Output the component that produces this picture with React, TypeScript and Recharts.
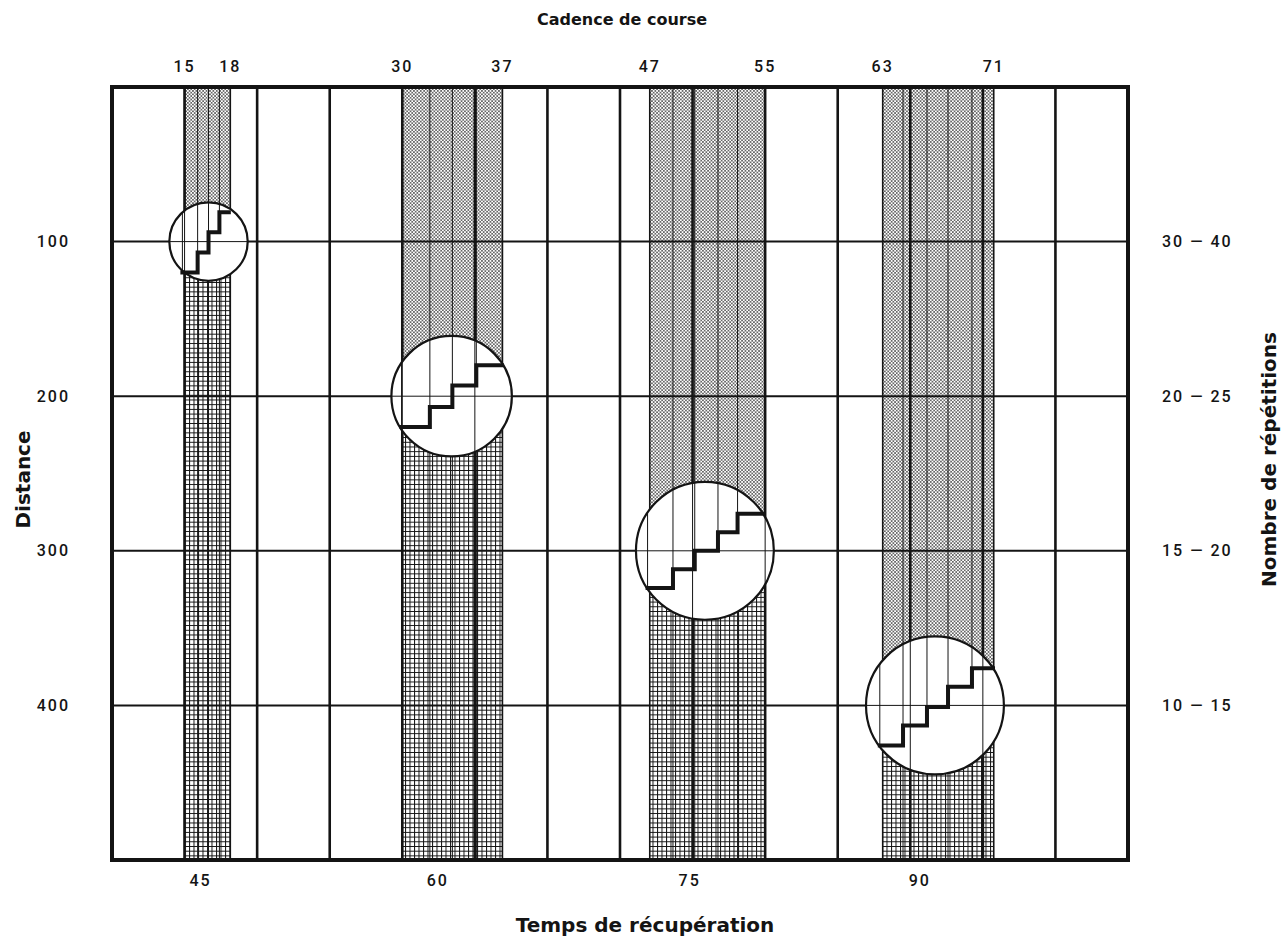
import React from 'react'
import {
  ComposedChart,
  XAxis,
  YAxis,
  Line,
  ReferenceArea,
  ReferenceLine,
  ReferenceDot,
  Label,
} from 'recharts'

// valeurs (x : colonnes de la grille, y : distance en m)
const X_MAX = 14
const Y_MAX = 500

const gridCols = [1, 2, 3, 4, 5, 6, 7, 8, 9, 10, 11, 12, 13]
const distances = [100, 200, 300, 400]
const repetitions = ['30 — 40', '20 — 25', '15 — 20', '10 — 15']

const cadencePos = [1, 1.63, 4, 5.38, 7.41, 9, 10.62, 12.15]
const cadenceLabels = ['15', '18', '30', '37', '47', '55', '63', '71']

const recupPos = [1.22, 4.49, 7.96, 11.13]
const recupLabels = ['45', '60', '75', '90']

const bandStart = [1, 4, 7.41, 10.62]
const bandEnd = [1.63, 5.38, 9, 12.15]

const circleX = [1.33, 4.68, 8.17, 11.34]
const circleY = [100, 200, 300, 400]
const circleR = [0.54, 0.83, 0.95, 0.95]

const stairX = [
  [0.97, 1.18, 1.33, 1.48, 1.61],
  [3.99, 4.38, 4.69, 5.02, 5.37],
  [7.38, 7.73, 8.03, 8.35, 8.62, 8.97],
  [10.58, 10.9, 11.23, 11.52, 11.85, 12.14],
]
const stairY = [
  [120, 107, 94, 81],
  [220, 207, 193, 180],
  [324, 312, 300, 288, 276],
  [426, 413, 401, 388, 376],
]

// mise en page
const W = 1282
const H = 938
const margin = { top: 47, right: 54, bottom: 38, left: 52 }
const LEFT_W = 60
const RIGHT_W = 100
const AXIS_H = 40
const PLOT_W = W - margin.left - margin.right - LEFT_W - RIGHT_W
const PLOT_H = H - margin.top - margin.bottom - 2 * AXIS_H
const KX = PLOT_W / X_MAX
const KY = PLOT_H / Y_MAX

const INK = '#141414'
const tickFont = { fontFamily: 'Roboto, sans-serif', fontSize: 16, fontWeight: 500, fill: INK, letterSpacing: 2 }
const titleFont = { fontFamily: '"DejaVu Sans", sans-serif', fontWeight: 700, fill: INK }

// demi-corde du cercle i à l'abscisse x, en unités y
function chord(i: number, x: number) {
  const dx = (x - circleX[i]) * KX
  const r = circleR[i] * KX
  if (Math.abs(dx) >= r) return null
  const h = Math.sqrt(r * r - dx * dx) / KY
  return [circleY[i] - h, circleY[i] + h]
}

const stairs = stairX.map((xs, i) =>
  xs.map((x, j) => ({ x, y: stairY[i][Math.min(j, stairY[i].length - 1)] }))
)

// lignes de la cadence (axe du haut)
const cadenceRows = cadencePos.map((x, i) => ({ x, label: cadenceLabels[i] }))

export default function App() {
  const bands = bandStart.flatMap((x1, i) => [
    <ReferenceArea key={`d${i}`} x1={x1} x2={bandEnd[i]} y1={0} y2={circleY[i]}
      fill="url(#dots)" fillOpacity={1} stroke="none" zIndex={1} />,
    <ReferenceArea key={`m${i}`} x1={x1} x2={bandEnd[i]} y1={circleY[i]} y2={Y_MAX}
      fill="url(#mesh)" fillOpacity={1} stroke="none" zIndex={1} />,
  ])

  const edges = bandStart.flatMap((x1, i) => [
    <ReferenceLine key={`e1${i}`} x={x1} stroke={INK} strokeWidth={1.6} zIndex={2} />,
    <ReferenceLine key={`e2${i}`} x={bandEnd[i]} stroke={INK} strokeWidth={1.6} zIndex={2} />,
    ...stairX[i].slice(1, -1).map((x, j) => (
      <ReferenceLine key={`r${i}-${j}`} x={x} stroke={INK} strokeWidth={1} zIndex={2} />
    )),
  ])

  const inCircle = circleX.flatMap((cx, i) => {
    const out = [
      <ReferenceLine key={`h${i}`} segment={[{ x: cx - circleR[i], y: circleY[i] }, { x: cx + circleR[i], y: circleY[i] }]}
        stroke={INK} strokeWidth={1} zIndex={5} />,
    ]
    stairX[i].slice(0, -1).forEach((x, j) => {
      const c = chord(i, x)
      if (c && c[0] < stairY[i][j]) {
        out.push(
          <ReferenceLine key={`s${i}-${j}`} segment={[{ x, y: c[0] }, { x, y: stairY[i][j] }]}
            stroke={INK} strokeWidth={1} zIndex={5} />
        )
      }
    })
    gridCols.forEach((x) => {
      const c = chord(i, x)
      if (c) {
        out.push(
          <ReferenceLine key={`g${i}-${x}`} segment={[{ x, y: c[0] }, { x, y: c[1] }]}
            stroke={INK} strokeWidth={1} zIndex={5} />
        )
      }
    })
    return out
  })

  return (
    <div style={{ position: 'absolute', left: 0, top: 0, width: W, height: H, background: '#fff' }}>
      <ComposedChart width={W} height={H} margin={margin} data={cadenceRows}>
        <defs>
          <pattern id="dots" width="3.4" height="3.4" patternUnits="userSpaceOnUse">
            <rect width="3.4" height="3.4" fill="#fff" />
            <circle cx="0.85" cy="0.85" r="0.8" fill="#222" />
            <circle cx="2.55" cy="2.55" r="0.8" fill="#222" />
          </pattern>
          <pattern id="mesh" width="4.5" height="4.7" patternUnits="userSpaceOnUse">
            <rect width="4.5" height="4.7" fill="#fff" />
            <path d="M0 0.5H4.5M0.5 0V4.7" stroke="#111" strokeWidth="1" />
          </pattern>
        </defs>

        <XAxis type="number" dataKey="x" domain={[0, X_MAX]} allowDataOverflow ticks={recupPos} interval={0}
          tickFormatter={(v) => recupLabels[recupPos.indexOf(v)]} height={AXIS_H}
          axisLine={false} tickLine={false} tickSize={0} tickMargin={15} tick={tickFont}>
          <Label content={({ viewBox }: any) => (
            <text x={viewBox.x + viewBox.width / 2 + 25} y={viewBox.y + viewBox.height + 32}
              textAnchor="middle" fontSize={20} style={titleFont}>Temps de récupération</text>
          )} />
        </XAxis>
        <XAxis xAxisId="top" orientation="top" type="number" dataKey="x" domain={[0, X_MAX]} allowDataOverflow
          ticks={cadencePos} interval={0} tickFormatter={(v) => cadenceLabels[cadencePos.indexOf(v)]}
          height={AXIS_H} axisLine={false} tickLine={false} tickSize={0} tickMargin={15} tick={tickFont}>
          <Label content={({ viewBox }: any) => (
            <text x={viewBox.x + viewBox.width / 2 + 2} y={viewBox.y - 22}
              textAnchor="middle" fontSize={16} style={titleFont}>Cadence de course</text>
          )} />
        </XAxis>
        <YAxis type="number" domain={[0, Y_MAX]} reversed allowDataOverflow ticks={distances} interval={0}
          width={LEFT_W} axisLine={false} tickLine={false} tickSize={0} tickMargin={42} tick={tickFont}>
          <Label content={({ viewBox }: any) => {
            const x = viewBox.x - 22
            const y = viewBox.y + viewBox.height / 2 + 6
            return (
              <text x={x} y={y} transform={`rotate(-90 ${x} ${y})`} textAnchor="middle"
                fontSize={20} style={titleFont}>Distance</text>
            )
          }} />
        </YAxis>
        <YAxis yAxisId="right" orientation="right" type="number" domain={[0, Y_MAX]} reversed allowDataOverflow
          ticks={distances} interval={0} tickFormatter={(v) => repetitions[distances.indexOf(v)]}
          width={RIGHT_W} axisLine={false} tickLine={false} tickSize={0} tickMargin={34} tick={tickFont}>
          <Label content={({ viewBox }: any) => {
            const x = viewBox.x + viewBox.width + 48
            const y = viewBox.y + viewBox.height / 2 - 14
            return (
              <text x={x} y={y} transform={`rotate(-90 ${x} ${y})`} textAnchor="middle"
                fontSize={20} style={titleFont}>Nombre de répétitions</text>
            )
          }} />
        </YAxis>

        {bands}

        {distances.map((y) => (
          <ReferenceLine key={`y${y}`} y={y} stroke={INK} strokeWidth={2} zIndex={2} />
        ))}
        {gridCols.map((x) => (
          <ReferenceLine key={`x${x}`} x={x} stroke={INK} strokeWidth={2.6} zIndex={3} />
        ))}
        {edges}

        {circleX.map((cx, i) => (
          <ReferenceDot key={`c${i}`} x={cx} y={circleY[i]} r={circleR[i] * KX}
            fill="#fff" fillOpacity={1} stroke={INK} strokeWidth={2.2} zIndex={4} />
        ))}
        {inCircle}

        {stairs.map((d, i) => (
          <Line key={`st${i}`} data={d} dataKey="y" type="stepAfter" stroke={INK} strokeWidth={4}
            strokeLinecap="square" dot={false} activeDot={false} isAnimationActive={false} zIndex={6} />
        ))}

        <ReferenceArea x1={0} x2={X_MAX} y1={0} y2={Y_MAX} fill="none" stroke={INK} strokeWidth={4} zIndex={7} />
      </ComposedChart>
    </div>
  )
}
